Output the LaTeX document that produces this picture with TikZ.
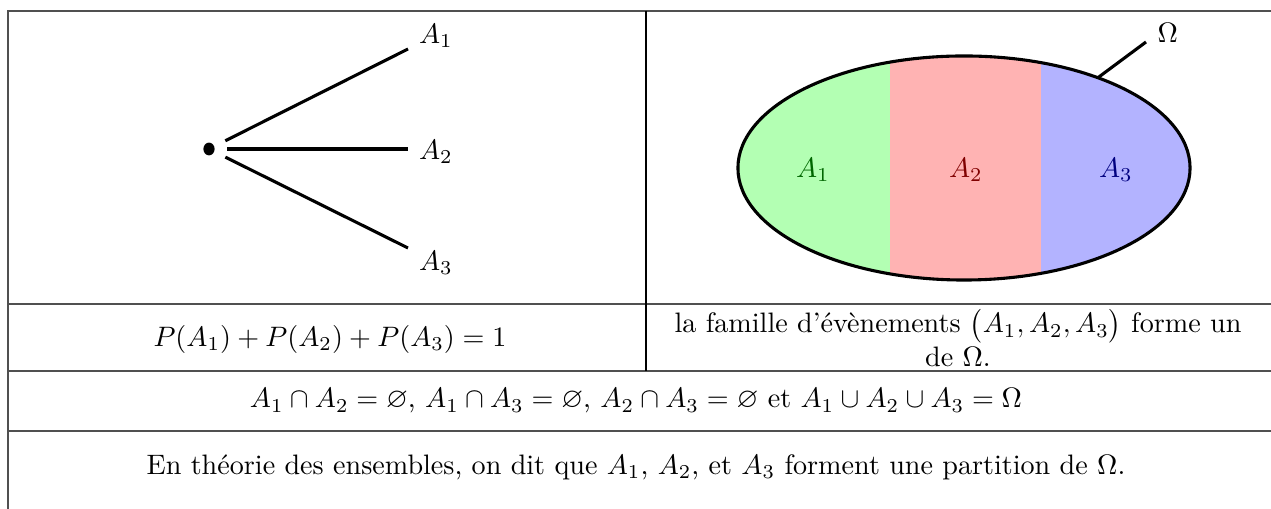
\documentclass[tikz,border=0pt]{standalone}
\usepackage{amssymb}
\usetikzlibrary{positioning,shapes.geometric}
\definecolor{gridline}{HTML}{505050}
\definecolor{fillA}{HTML}{B3FFB3}
\definecolor{fillB}{HTML}{FFB3B3}
\definecolor{fillC}{HTML}{B3B3FF}
\definecolor{inkA}{HTML}{006600}
\definecolor{inkB}{HTML}{800000}
\definecolor{inkC}{HTML}{000080}
\tikzset{
  dot/.style={ellipse,fill=black,inner sep=0pt,minimum width=1.4mm,minimum height=1.6mm},
  branch/.style={line width=1.1pt,shorten <=1.5mm},
  cellrule/.style={draw=gridline,line width=0.6pt},
}
\begin{document}
\begin{tikzpicture}[x=0.0125cm,y=-0.0125cm,font=\normalsize]
  \useasboundingbox (0,0) rectangle (1271,509);
  % table rules
  \draw[cellrule] (8,509) -- (8,11) -- (1290,11);
  \draw[cellrule] (8,304) -- (1290,304);
  \draw[cellrule] (8,371) -- (1290,371);
  \draw[cellrule] (8,431) -- (1290,431);
  \draw[line width=0.6pt] (646,11) -- (646,371);
  % tree
  \node[dot] (root) at (209,149) {};
  \coordinate (e1) at (408,49);
  \coordinate (e2) at (408,149);
  \coordinate (e3) at (408,248);
  \node (a1) at (436,36) {$A_1$};
  \node (a2) at (436,152) {$A_2$};
  \node (a3) at (436,263) {$A_3$};
  \draw[branch] (root) -- (e1);
  \draw[branch] (root) -- (e2);
  \draw[branch] (root) -- (e3);
  % universe
  \begin{scope}
    \clip (964,168) ellipse [x radius=226, y radius=112];
    \fill[fillA] (730,50) rectangle (890,290);
    \fill[fillB] (890,50) rectangle (1041,290);
    \fill[fillC] (1041,50) rectangle (1200,290);
  \end{scope}
  \node[draw,line width=1.1pt,ellipse,inner sep=0pt,outer sep=0pt,minimum width=5.65cm,minimum height=2.8cm]
     (omega) at (964,168) {};
  \node[text=inkA] (p1) at (813,170) {$A_1$};
  \node[text=inkB] (p2) at (966,170) {$A_2$};
  \node[text=inkC] (p3) at (1116,170) {$A_3$};
  \node[anchor=base west,inner sep=0pt] (om) at (1157,43) {$\Omega$};
  \coordinate (ot) at (1146,42);
  \draw[line width=1.1pt] (omega.34) -- (ot);
  % rows
  \node (sum) at (330,339) {$P(A_1)+P(A_2)+P(A_3)=1$};
  \node[align=center] (fam) at (958,338)
     {la famille d'évènements $\bigl(A_1,A_2,A_3\bigr)$ forme un\\ de $\Omega$.};
  \node (inter) at (636,401)
     {$A_1\cap A_2=\varnothing$, $A_1\cap A_3=\varnothing$, $A_2\cap A_3=\varnothing$ et $A_1\cup A_2\cup A_3=\Omega$};
  \node (part) at (636,467)
     {En théorie des ensembles, on dit que $A_1$, $A_2$, et $A_3$ forment une partition de $\Omega$.};
\end{tikzpicture}
\end{document}
